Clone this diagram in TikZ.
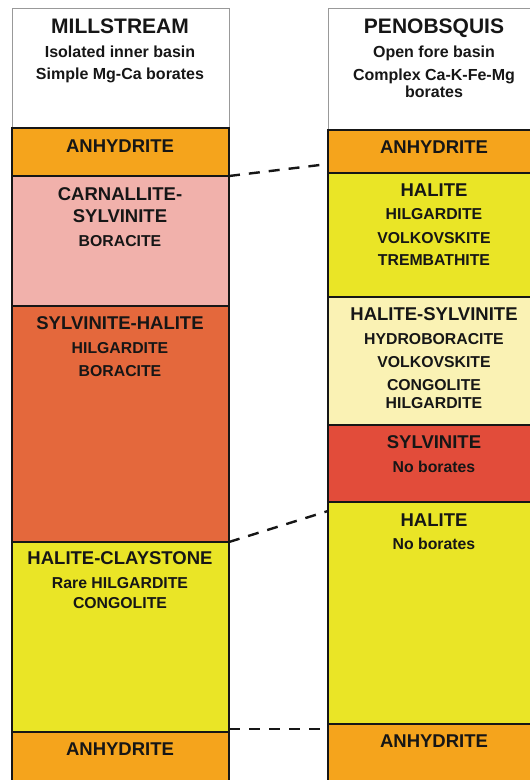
\documentclass[tikz,border=0pt]{standalone}
\usepackage{fontspec}
\setmainfont{Liberation Sans}
\definecolor{anh}{RGB}{245,164,28}
\definecolor{carn}{RGB}{241,177,171}
\definecolor{sylh}{RGB}{228,104,60}
\definecolor{hal}{RGB}{234,229,38}
\definecolor{halsyl}{RGB}{250,242,180}
\definecolor{sylv}{RGB}{226,76,58}
\definecolor{ink}{RGB}{22,22,22}
\begin{document}
\begin{tikzpicture}[x=1pt,y=-1pt,
  layer/.style={draw=ink,line width=1.8pt},
  head/.style={draw=black!40,line width=0.7pt},
  ttl/.style={font=\bfseries\fontsize{21}{24}\selectfont,anchor=base,inner sep=0pt,text=ink},
  sub/.style={font=\bfseries\fontsize{16}{19}\selectfont,anchor=base,inner sep=0pt,text=ink},
  big/.style={font=\bfseries\fontsize{18.5}{22}\selectfont,anchor=base,inner sep=0pt,text=ink},
  sml/.style={font=\bfseries\fontsize{15.8}{19}\selectfont,anchor=base,inner sep=0pt,text=ink},
  link/.style={draw=ink,line width=2.4pt,dash pattern=on 11pt off 9pt}]
\useasboundingbox (0,0) rectangle (530,780);
% headers
\draw[head] (12,128) -- (12,8) -- (229,8) -- (229,128);
\draw[head] (328,130) -- (328,8) -- (545,8);
% left column layers
\path[layer,fill=anh]  (12,128) rectangle (229,176);
\path[layer,fill=carn] (12,176) rectangle (229,306);
\path[layer,fill=sylh] (12,306) rectangle (229,542);
\path[layer,fill=hal]  (12,542) rectangle (229,732);
\path[layer,fill=anh]  (12,732) rectangle (229,795);
% right column layers
\path[layer,fill=anh]    (328,130) rectangle (545,173);
\path[layer,fill=hal]    (328,173) rectangle (545,297);
\path[layer,fill=halsyl] (328,297) rectangle (545,425);
\path[layer,fill=sylv]   (328,425) rectangle (545,502);
\path[layer,fill=hal]    (328,502) rectangle (545,724);
\path[layer,fill=anh]    (328,724) rectangle (545,795);
% correlation lines
\coordinate (L1) at (229,176);
\coordinate (R1) at (328,164);
\coordinate (L2) at (229,542);
\coordinate (R2) at (328,511);
\coordinate (L3) at (229,729);
\coordinate (R3) at (328,729);
\draw[link] (L1) -- (R1);
\draw[link] (L2) -- (R2);
\draw[link] (L3) -- (R3);
% left texts
\node[ttl] (t1) at (120,33) {MILLSTREAM};
\node[sub] (t2) at (120,57) {Isolated inner basin};
\node[sub] (t3) at (120,79.5) {Simple Mg-Ca borates};
\node[big] (a1) at (120,152) {ANHYDRITE};
\node[big] (c1) at (120,200) {CARNALLITE-};
\node[big] (c2) at (120,222) {SYLVINITE};
\node[sml] (c3) at (120,246) {BORACITE};
\node[big] (s1) at (120,329.5) {SYLVINITE-HALITE};
\node[sml] (s2) at (120,353) {HILGARDITE};
\node[sml] (s3) at (120,376) {BORACITE};
\node[big] (h1) at (120,564.5) {HALITE-CLAYSTONE};
\node[sml] (h2) at (120,588.5) {Rare HILGARDITE};
\node[sml] (h3) at (120,608) {CONGOLITE};
\node[big] (a2) at (120,755) {ANHYDRITE};
% right texts
\node[ttl] (u1) at (434,33) {PENOBSQUIS};
\node[sub] (u2) at (434,57) {Open fore basin};
\node[sub] (u3) at (434,80) {Complex Ca-K-Fe-Mg};
\node[sub] (u4) at (434,97.5) {borates};
\node[big] (b1) at (434,153) {ANHYDRITE};
\node[big] (k1) at (434,196) {HALITE};
\node[sml] (k2) at (434,219.5) {HILGARDITE};
\node[sml] (k3) at (434,243) {VOLKOVSKITE};
\node[sml] (k4) at (434,265.5) {TREMBATHITE};
\node[big] (m1) at (434,320) {HALITE-SYLVINITE};
\node[sml] (m2) at (434,344) {HYDROBORACITE};
\node[sml] (m3) at (434,367) {VOLKOVSKITE};
\node[sml] (m4) at (434,390) {CONGOLITE};
\node[sml] (m5) at (434,408.5) {HILGARDITE};
\node[big] (v1) at (434,448.5) {SYLVINITE};
\node[sml] (v2) at (434,472) {No borates};
\node[big] (n1) at (434,526) {HALITE};
\node[sml] (n2) at (434,549.5) {No borates};
\node[big] (b2) at (434,747) {ANHYDRITE};
\end{tikzpicture}
\end{document}
